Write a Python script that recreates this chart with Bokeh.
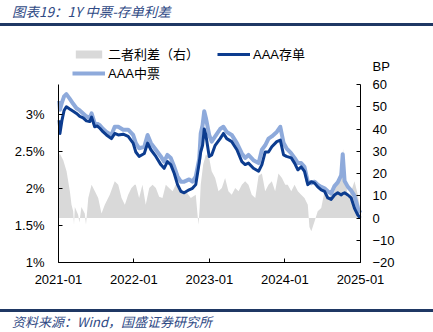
import pandas as pd
from bokeh.plotting import figure
from bokeh.models import (Range1d, LinearAxis, FixedTicker, DatetimeTickFormatter,
                          Legend, LegendItem, Label, Div, ColumnDataSource)
from bokeh.layouts import column
from bokeh.embed import file_html
from bokeh.resources import INLINE

TITLE = "图表19：1Y 中票-存单利差"
SOURCE = "资料来源：Wind，国盛证券研究所"
SERIES_NAMES = ["二者利差（右）", "AAA存单", "AAA中票"]
RIGHT_UNIT = "BP"

X_TICKS = ["2021-01-01", "2022-01-01", "2023-01-01", "2024-01-01", "2025-01-01"]
Y_LEFT_TICKS = [1.0, 1.5, 2.0, 2.5, 3.0]
Y_LEFT_LABELS = ["1%", "1.5%", "2%", "2.5%", "3%"]
Y_LEFT_BOUNDS = [1.0, 3.4]
Y_RIGHT_TICKS = [-20, -10, 0, 10, 20, 30, 40, 50, 60]
Y_RIGHT_BOUNDS = [-20, 60]

LINE_DATES = [
    "2021-01-04", "2021-01-08", "2021-01-18", "2021-01-28", "2021-02-08", "2021-02-24",
    "2021-03-13", "2021-03-29", "2021-04-14", "2021-04-30", "2021-05-16", "2021-06-01",
    "2021-06-10", "2021-06-25", "2021-07-08", "2021-07-20", "2021-08-05", "2021-08-21",
    "2021-09-14", "2021-09-30", "2021-10-17", "2021-11-10", "2021-12-04", "2021-12-28",
    "2022-01-10", "2022-01-26", "2022-02-20", "2022-03-08", "2022-03-24", "2022-04-17",
    "2022-05-11", "2022-05-27", "2022-06-12", "2022-06-28", "2022-07-15", "2022-07-31",
    "2022-08-16", "2022-09-01", "2022-09-25", "2022-10-11", "2022-10-27", "2022-11-13",
    "2022-11-20", "2022-11-29", "2022-12-07", "2022-12-15", "2022-12-31",
    "2023-01-12", "2023-01-29", "2023-02-22", "2023-03-10", "2023-03-26", "2023-04-19",
    "2023-05-14", "2023-06-07", "2023-06-23", "2023-07-09", "2023-08-02", "2023-08-27",
    "2023-09-12", "2023-09-28", "2023-10-14", "2023-10-30", "2023-11-23", "2023-12-10",
    "2023-12-26", "2024-01-09",
    "2024-02-01", "2024-02-17", "2024-03-04", "2024-03-20", "2024-04-05", "2024-04-21",
    "2024-05-08", "2024-05-24", "2024-06-08", "2024-06-25", "2024-07-11", "2024-07-27",
    "2024-08-12", "2024-08-28", "2024-09-13", "2024-09-30", "2024-10-07", "2024-10-16",
    "2024-11-01", "2024-11-17", "2024-12-03", "2024-12-19", "2024-12-31",
]
CD_AAA = [
    2.92, 2.74, 2.92, 3.05, 3.10, 3.07,
    3.04, 3.01, 2.97, 2.95, 2.91, 2.90,
    2.96, 2.83, 2.84, 2.81, 2.76, 2.72,
    2.67, 2.74, 2.72, 2.73, 2.70, 2.61,
    2.49, 2.43, 2.47, 2.61, 2.52, 2.43,
    2.32, 2.27, 2.36, 2.32, 2.20, 2.05,
    1.96, 1.94, 1.98, 2.00, 2.05, 2.35,
    2.49, 2.58, 2.80, 2.72, 2.43,
    2.45, 2.58, 2.67, 2.74, 2.67, 2.63,
    2.52, 2.36, 2.32, 2.34, 2.27, 2.23,
    2.32, 2.49, 2.49, 2.56, 2.63, 2.65,
    2.45, 2.43,
    2.41, 2.34, 2.25, 2.29, 2.23, 2.05,
    2.09, 2.07, 2.02, 1.98, 1.96, 1.87,
    1.85, 1.91, 1.94, 1.91, 1.93, 1.94,
    1.91, 1.87, 1.73, 1.64, 1.60,
]
MTN_AAA = [
    3.18, 3.06, 3.16, 3.24, 3.27, 3.21,
    3.14, 3.08, 3.05, 3.01, 2.97, 2.95,
    3.01, 2.88, 2.87, 2.85, 2.80, 2.76,
    2.72, 2.83, 2.83, 2.79, 2.79, 2.72,
    2.61, 2.54, 2.56, 2.72, 2.61, 2.52,
    2.43, 2.36, 2.45, 2.41, 2.29, 2.16,
    2.09, 2.09, 2.12, 2.09, 2.16, 2.40,
    2.74, 2.85, 3.04, 2.95, 2.72,
    2.63, 2.70, 2.80, 2.83, 2.76, 2.72,
    2.61, 2.47, 2.41, 2.45, 2.38, 2.34,
    2.52, 2.58, 2.67, 2.70, 2.76, 2.83,
    2.61, 2.54,
    2.47, 2.41, 2.34, 2.34, 2.29, 2.09,
    2.07, 2.09, 2.05, 2.02, 2.00, 1.96,
    1.93, 2.03, 2.08, 2.18, 2.46, 2.10,
    2.02, 1.97, 1.90, 1.74, 1.67,
]

SPREAD_DATES = [
    "2021-01-04", "2021-01-07", "2021-01-24", "2021-02-09", "2021-02-25", "2021-03-05",
    "2021-03-13", "2021-03-17", "2021-03-21", "2021-04-06", "2021-04-12", "2021-04-22",
    "2021-05-08", "2021-05-14", "2021-05-25", "2021-06-10", "2021-06-26", "2021-07-12",
    "2021-07-28", "2021-08-13", "2021-09-06", "2021-09-30", "2021-10-17", "2021-11-02",
    "2021-11-18", "2021-12-04", "2021-12-20", "2022-01-04",
    "2022-01-10", "2022-01-26", "2022-02-11", "2022-02-27", "2022-03-16", "2022-04-01",
    "2022-04-17", "2022-05-03", "2022-05-19", "2022-06-04", "2022-06-20", "2022-07-07",
    "2022-07-22", "2022-08-08", "2022-08-24", "2022-09-09", "2022-10-03", "2022-10-27",
    "2022-11-09", "2022-11-15", "2022-11-20", "2022-12-02", "2022-12-15", "2022-12-31",
    "2023-01-12", "2023-01-29", "2023-02-14", "2023-03-02", "2023-03-18", "2023-04-03",
    "2023-04-19", "2023-05-06", "2023-05-22", "2023-06-07", "2023-06-23", "2023-07-09",
    "2023-07-25", "2023-08-11", "2023-08-27", "2023-09-12", "2023-09-28", "2023-10-14",
    "2023-10-30", "2023-11-15", "2023-12-01", "2023-12-18", "2024-01-03",
    "2024-01-15", "2024-02-01", "2024-02-17", "2024-03-04", "2024-03-20", "2024-04-05",
    "2024-04-21", "2024-04-29", "2024-05-08", "2024-05-24", "2024-06-08", "2024-06-25",
    "2024-07-11", "2024-07-27", "2024-08-12", "2024-08-28", "2024-09-13", "2024-09-30",
    "2024-10-09", "2024-10-16", "2024-11-01", "2024-11-17", "2024-12-03", "2024-12-19",
    "2024-12-31",
]
SPREAD_BP = [
    28, 29, 26, 21, 12, 6,
    3, -3, 5, 1.5, -2, 5,
    2, -3, 9, 15, 12, 9,
    2, 6, 10.5, 16.5, 15, 9,
    6, 10.5, 13.5, 15,
    15, 9, 15, 6, 13.5, 15,
    13.5, 9.5, 9, 15, 13.5, 12,
    15, 14, 12, 12, 9, 10.5,
    -3, 5, 15, 24, 28.5, 27,
    21, 18, 12, 13.5, 18, 12,
    10.5, 13.5, 12, 15, 16.5, 15,
    10.5, 9, 19, 20, 12, 15,
    16.5, 12, 20, 18, 15,
    15, 12, 15, 12, 10.5, 9,
    6, -4, -6, -1.5, 3, 4.5,
    12, 9, 10.5, 12, 16.5, 23,
    31, 21, 9, 12, 16.5, 10.5,
    3,
]

assert len(LINE_DATES) == len(CD_AAA) == len(MTN_AAA)
assert len(SPREAD_DATES) == len(SPREAD_BP)

GRAY = "#d9d9d9"
DARK = "#0c3c8f"
LIGHT = "#8eaadb"
NAVY = "#1f3864"
TEXT_BLUE = "#2f4a85"
AX_FONT = "Liberation Sans"
CJK_FONT = "'Liberation Sans', 'Noto Sans CJK SC'"

# geometry (pixels inside the 433x280 figure); the frame is the whole figure and
# the axes are drawn at fixed locations, limited with bounds.
FIG_W, FIG_H = 433, 280
AX_LEFT, AX_RIGHT = 58, 360     # x pixel of the left / right axis
AX_TOP, AX_BOTTOM = 58, 236     # y pixel of the top / bottom of the y axes

x_start = pd.Timestamp(X_TICKS[0])
x_end = pd.Timestamp(X_TICKS[-1])
span = x_end - x_start
ax_w = AX_RIGHT - AX_LEFT
ax_h = AX_BOTTOM - AX_TOP
x_lo = x_start - span * (AX_LEFT / ax_w)
x_hi = x_start + span * ((FIG_W - AX_LEFT) / ax_w)

def y_limits(bounds):
    lo, hi = bounds
    per_px = (hi - lo) / ax_h
    return lo - per_px * (FIG_H - AX_BOTTOM), hi + per_px * AX_TOP

left_lo, left_hi = y_limits(Y_LEFT_BOUNDS)
right_lo, right_hi = y_limits(Y_RIGHT_BOUNDS)

def ms(ts):
    return int(pd.Timestamp(ts).value // 10**6)

line_src = ColumnDataSource(data=dict(x=pd.to_datetime(LINE_DATES), cd=CD_AAA, mtn=MTN_AAA))
spread_src = ColumnDataSource(data=dict(x=pd.to_datetime(SPREAD_DATES), s=SPREAD_BP))

p = figure(width=FIG_W, height=FIG_H, x_axis_type="datetime", title=None,
           x_range=Range1d(x_lo, x_hi), y_range=Range1d(left_lo, left_hi),
           output_backend="svg", toolbar_location=None,
           min_border_left=0, min_border_right=0, min_border_top=0, min_border_bottom=0,
           outline_line_color=None, background_fill_color="white", border_fill_color="white")
p.extra_y_ranges = {"bp": Range1d(right_lo, right_hi)}
p.grid.visible = False

area = p.varea(x="x", y1=0, y2="s", source=spread_src, y_range_name="bp",
               fill_color=GRAY, fill_alpha=1.0)
mtn_line = p.line(x="x", y="mtn", source=line_src, line_color=LIGHT, line_width=4,
                  line_join="round")
cd_line = p.line(x="x", y="cd", source=line_src, line_color=DARK, line_width=3,
                 line_join="round")

def style_axis(ax, standoff):
    ax.axis_line_color = "black"
    ax.axis_line_width = 1
    ax.major_tick_line_color = "black"
    ax.major_tick_in = 4
    ax.major_tick_out = 0
    ax.minor_tick_line_color = None
    ax.major_label_text_font = AX_FONT
    ax.major_label_text_font_size = "13px"
    ax.major_label_text_color = "black"
    ax.major_label_standoff = standoff

xa = p.xaxis[0]
xa.ticker = FixedTicker(ticks=[ms(t) for t in X_TICKS])
xa.formatter = DatetimeTickFormatter(years="%Y-%m", months="%Y-%m", days="%Y-%m",
                                     hours="%Y-%m", minutes="%Y-%m")
xa.bounds = (ms(x_start), ms(x_end))
xa.fixed_location = Y_LEFT_BOUNDS[0]
style_axis(xa, 12)

ya = p.yaxis[0]
ya.ticker = FixedTicker(ticks=Y_LEFT_TICKS)
ya.major_label_overrides = dict(zip(Y_LEFT_TICKS, Y_LEFT_LABELS))
ya.bounds = tuple(Y_LEFT_BOUNDS)
ya.fixed_location = ms(x_start)
style_axis(ya, 14)

yr = LinearAxis(y_range_name="bp", ticker=FixedTicker(ticks=Y_RIGHT_TICKS),
                bounds=tuple(Y_RIGHT_BOUNDS), fixed_location=ms(x_end))
style_axis(yr, 12)
p.add_layout(yr, "right")

p.add_layout(Label(x=ms(x_end), y=Y_RIGHT_BOUNDS[1], y_range_name="bp", text=RIGHT_UNIT,
                   x_offset=12, y_offset=18, text_baseline="middle",
                   text_font=AX_FONT, text_font_size="13px", text_color="black"))

legend = Legend(items=[LegendItem(label=SERIES_NAMES[0], renderers=[area]),
                       LegendItem(label=SERIES_NAMES[1], renderers=[cd_line]),
                       LegendItem(label=SERIES_NAMES[2], renderers=[mtn_line])],
                location=(72, 224), orientation="horizontal", ncols=2,
                glyph_width=33, glyph_height=10, label_standoff=3,
                label_width=109, label_height=16, spacing=0, padding=0, margin=0,
                border_line_color=None, background_fill_alpha=0,
                label_text_font=CJK_FONT, label_text_font_size="13px",
                label_text_color="black")
p.add_layout(legend, "center")

title_div = Div(
    text=(f'<div style="box-sizing:border-box;width:433px;height:26px;'
          f'border-bottom:3px solid {NAVY};padding:3px 0 0 12px;'
          f"font-family:'Noto Sans CJK SC';font-style:italic;font-size:13.5px;"
          f'line-height:17px;color:{TEXT_BLUE};white-space:nowrap;">{TITLE}</div>'),
    width=433, height=26, margin=0)
source_div = Div(
    text=(f'<div style="box-sizing:border-box;width:433px;height:26px;padding-top:3px;">'
          f'<div style="height:3px;background:{NAVY};"></div>'
          f"<div style=\"padding-left:12px;font-family:'Noto Sans CJK SC';font-style:italic;"
          f'font-size:13px;line-height:19px;color:{TEXT_BLUE};white-space:nowrap;">'
          f'{SOURCE}</div></div>'),
    width=433, height=26, margin=0)

layout = column(title_div, p, source_div, spacing=0)

open("out.html", "w").write(file_html(layout, INLINE))
